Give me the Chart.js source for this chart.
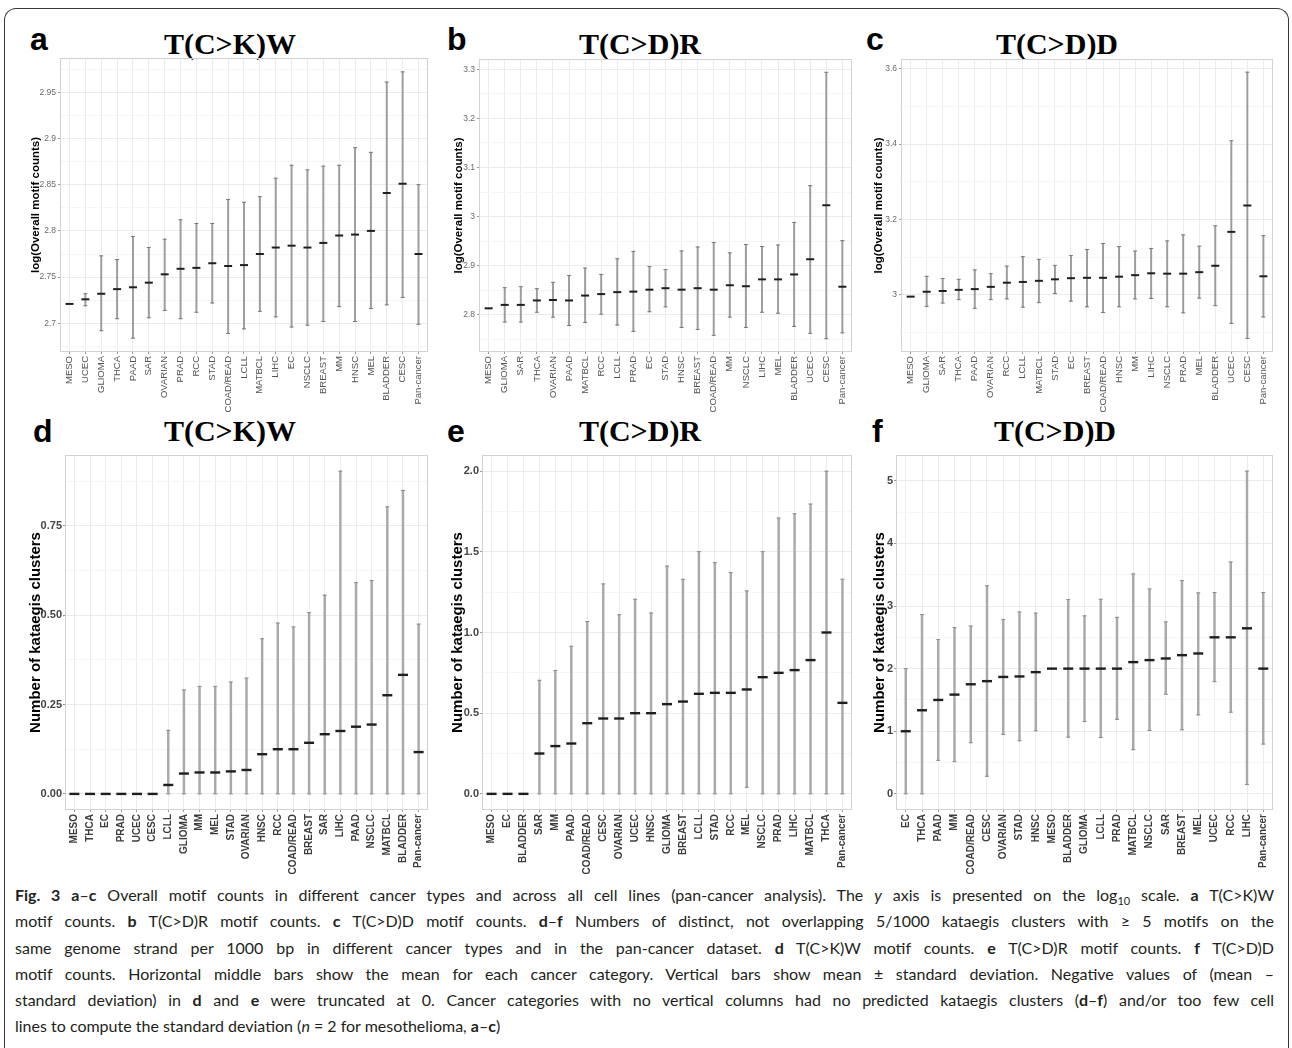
<!DOCTYPE html>
<html lang="en">
<head>
<meta charset="UTF-8">
<title>Fig. 3 motif counts and kataegis clusters</title>
<script src="https://cdn.jsdelivr.net/npm/chart.js"></script>
<style>
  body { margin: 0; background: #fff; width: 1292px; height: 1048px; position: relative; overflow: hidden; }
  .frame { position: absolute; left: 4px; top: 8px; width: 1283px; height: 1060px; border: 1.5px solid #3a3a3a; border-bottom: none; border-radius: 12px; }
  .letter { position: absolute; font: bold 32px 'Liberation Sans', Arial, sans-serif; line-height: 32px; color: #000; }
  .ptitle { position: absolute; width: 300px; text-align: center; font: bold 30px 'Liberation Serif', 'Times New Roman', serif; line-height: 30px; color: #000; }
  canvas { position: absolute; }
  .caption { position: absolute; left: 15px; top: 882px; width: 1259px; font: 16px Lato, sans-serif; color: #231f20; line-height: 26.3px; }
  .caption div { text-align: justify; text-align-last: justify; white-space: nowrap; }
  .caption div.last { text-align-last: left; }
</style>
</head>
<body>
<div class="frame"></div>

<div class="letter" style="left:30px; top:23px">a</div>
<div class="letter" style="left:447px; top:23px">b</div>
<div class="letter" style="left:866px; top:23px">c</div>
<div class="letter" style="left:33px; top:415px">d</div>
<div class="letter" style="left:447px; top:415px">e</div>
<div class="letter" style="left:872px; top:415px">f</div>

<div class="ptitle" style="left:80px; top:29px">T(C&gt;K)W</div>
<div class="ptitle" style="left:490px; top:29px">T(C&gt;D)R</div>
<div class="ptitle" style="left:907px; top:29px">T(C&gt;D)D</div>
<div class="ptitle" style="left:80px; top:416px">T(C&gt;K)W</div>
<div class="ptitle" style="left:490px; top:416px">T(C&gt;D)R</div>
<div class="ptitle" style="left:905px; top:416px">T(C&gt;D)D</div>

<canvas id="pa"></canvas>
<canvas id="pb"></canvas>
<canvas id="pc"></canvas>
<canvas id="pd"></canvas>
<canvas id="pe"></canvas>
<canvas id="pf"></canvas>

<div class="caption">
  <div><b>Fig. 3</b> <b>a</b>–<b>c</b> Overall motif counts in different cancer types and across all cell lines (pan-cancer analysis). The <i>y</i> axis is presented on the log<sub style="font-size:11px;line-height:0">10</sub> scale. <b>a</b> T(C&gt;K)W</div>
  <div>motif counts. <b>b</b> T(C&gt;D)R motif counts. <b>c</b> T(C&gt;D)D motif counts. <b>d</b>–<b>f</b> Numbers of distinct, not overlapping 5/1000 kataegis clusters with ≥ 5 motifs on the</div>
  <div>same genome strand per 1000 bp in different cancer types and in the pan-cancer dataset. <b>d</b> T(C&gt;K)W motif counts. <b>e</b> T(C&gt;D)R motif counts. <b>f</b> T(C&gt;D)D</div>
  <div>motif counts. Horizontal middle bars show the mean for each cancer category. Vertical bars show mean ± standard deviation. Negative values of (mean –</div>
  <div>standard deviation) in <b>d</b> and <b>e</b> were truncated at 0. Cancer categories with no vertical columns had no predicted kataegis clusters (<b>d</b>–<b>f</b>) and/or too few cell</div>
  <div class="last">lines to compute the standard deviation (<i>n</i> = 2 for mesothelioma, <b>a</b>–<b>c</b>)</div>
</div>

<script>
// ---- panel a: T(C>K)W, log10 overall motif counts ----
const aCats = ['MESO','UCEC','GLIOMA','THCA','PAAD','SAR','OVARIAN','PRAD','RCC','STAD','COAD/READ','LCLL','MATBCL','LIHC','EC','NSCLC','BREAST','MM','HNSC','MEL','BLADDER','CESC','Pan-cancer'];
const aMean = [2.721,2.726,2.732,2.737,2.739,2.744,2.753,2.759,2.760,2.765,2.762,2.763,2.775,2.782,2.784,2.782,2.787,2.795,2.796,2.800,2.841,2.851,2.775];
const aLow  = [null,2.719,2.692,2.705,2.684,2.706,2.714,2.705,2.712,2.722,2.689,2.694,2.713,2.707,2.696,2.698,2.702,2.718,2.702,2.716,2.720,2.728,2.699];
const aHigh = [null,2.732,2.773,2.769,2.794,2.782,2.791,2.812,2.808,2.808,2.834,2.831,2.837,2.857,2.871,2.866,2.870,2.871,2.890,2.885,2.961,2.972,2.850];
const aTicks = [2.7, 2.75, 2.8, 2.85, 2.9, 2.95];
const aTickLabels = ['2.7','2.75','2.8','2.85','2.9','2.95'];

// ---- panel b: T(C>D)R ----
const bCats = ['MESO','GLIOMA','SAR','THCA','OVARIAN','PAAD','MATBCL','RCC','LCLL','PRAD','EC','STAD','HNSC','BREAST','COAD/READ','MM','NSCLC','LIHC','MEL','BLADDER','UCEC','CESC','Pan-cancer'];
const bMean = [2.813,2.820,2.820,2.829,2.830,2.829,2.839,2.842,2.846,2.847,2.851,2.854,2.851,2.854,2.851,2.860,2.858,2.872,2.872,2.882,2.913,3.023,2.857];
const bLow  = [null,2.785,2.785,2.805,2.795,2.778,2.784,2.801,2.779,2.766,2.806,2.816,2.774,2.770,2.758,2.795,2.774,2.805,2.803,2.776,2.762,2.751,2.763];
const bHigh = [null,2.855,2.857,2.853,2.866,2.880,2.895,2.882,2.914,2.929,2.898,2.892,2.930,2.938,2.947,2.926,2.943,2.939,2.942,2.988,3.063,3.294,2.951];
const bTicks = [2.8, 2.9, 3.0, 3.1, 3.2, 3.3];
const bTickLabels = ['2.8','2.9','3','3.1','3.2','3.3'];

// ---- panel c: T(C>D)D ----
const cCats = ['MESO','GLIOMA','SAR','THCA','PAAD','OVARIAN','RCC','LCLL','MATBCL','STAD','EC','BREAST','COAD/READ','HNSC','MM','LIHC','NSCLC','PRAD','MEL','BLADDER','UCEC','CESC','Pan-cancer'];
const cMean = [2.995,3.008,3.010,3.013,3.015,3.021,3.032,3.034,3.037,3.041,3.044,3.045,3.045,3.048,3.052,3.057,3.056,3.056,3.060,3.077,3.167,3.237,3.049];
const cLow  = [null,2.969,2.978,2.987,2.964,2.987,2.989,2.967,2.979,3.003,2.983,2.968,2.953,2.968,2.989,2.990,2.968,2.952,2.991,2.971,2.924,2.884,2.941];
const cHigh = [null,3.049,3.043,3.041,3.066,3.056,3.076,3.101,3.094,3.078,3.104,3.120,3.136,3.128,3.116,3.123,3.143,3.159,3.129,3.183,3.409,3.591,3.157];
const cTicks = [3.0, 3.2, 3.4, 3.6];
const cTickLabels = ['3','3.2','3.4','3.6'];

// ---- panel d: kataegis clusters, T(C>K)W ----
const dCats = ['MESO','THCA','EC','PRAD','UCEC','CESC','LCLL','GLIOMA','MM','MEL','STAD','OVARIAN','HNSC','RCC','COAD/READ','BREAST','SAR','LIHC','PAAD','NSCLC','MATBCL','BLADDER','Pan-cancer'];
const dMean = [0,0,0,0,0,0,0.025,0.057,0.060,0.060,0.063,0.067,0.111,0.125,0.125,0.143,0.167,0.176,0.188,0.194,0.276,0.333,0.117];
const dLow  = [null,null,null,null,null,null,0,0,0,0,0,0,0,0,0,0,0,0,0,0,0,0,0];
const dHigh = [null,null,null,null,null,null,0.178,0.291,0.301,0.301,0.313,0.324,0.434,0.478,0.467,0.507,0.556,0.903,0.591,0.597,0.803,0.849,0.475];
const dTicks = [0, 0.25, 0.5, 0.75];
const dTickLabels = ['0.00','0.25','0.50','0.75'];

// ---- panel e: kataegis clusters, T(C>D)R ----
const eCats = ['MESO','EC','BLADDER','SAR','MM','PAAD','COAD/READ','CESC','OVARIAN','UCEC','HNSC','GLIOMA','BREAST','LCLL','STAD','RCC','MEL','NSCLC','PRAD','LIHC','MATBCL','THCA','Pan-cancer'];
const eMean = [0,0,0,0.25,0.296,0.312,0.438,0.467,0.467,0.5,0.5,0.556,0.572,0.62,0.626,0.626,0.647,0.723,0.75,0.767,0.829,1.0,0.564];
const eLow  = [null,null,null,0,0,0,0,0,0,0,0,0,0,0,0,0,0.041,0,0,0,0,0,0];
const eHigh = [null,null,null,0.704,0.764,0.915,1.068,1.301,1.11,1.206,1.121,1.412,1.33,1.501,1.433,1.371,1.258,1.501,1.709,1.736,1.796,2.0,1.33];
const eTicks = [0, 0.5, 1, 1.5, 2];
const eTickLabels = ['0.0','0.5','1.0','1.5','2.0'];

// ---- panel f: kataegis clusters, T(C>D)D ----
const fCats = ['EC','THCA','PAAD','MM','COAD/READ','CESC','OVARIAN','STAD','HNSC','MESO','BLADDER','GLIOMA','LCLL','PRAD','MATBCL','NSCLC','SAR','BREAST','MEL','UCEC','RCC','LIHC','Pan-cancer'];
const fMean = [1.0,1.335,1.5,1.585,1.75,1.8,1.867,1.875,1.944,2,2,2,2,2,2.104,2.136,2.162,2.215,2.242,2.5,2.5,2.644,2.0];
const fLow  = [0,0,0.535,0.514,0.816,0.281,0.949,0.848,1.007,null,0.906,1.155,0.901,1.19,0.705,1.012,1.59,1.023,1.261,1.791,1.304,0.148,0.795];
const fHigh = [2.0,2.863,2.464,2.655,2.68,3.324,2.785,2.905,2.886,null,3.103,2.843,3.108,2.82,3.513,3.273,2.746,3.406,3.21,3.215,3.705,5.154,3.215];
const fTicks = [0, 1, 2, 3, 4, 5];
const fTickLabels = ['0','1','2','3','4','5'];

const ARIAL = "'Liberation Sans', Arial, sans-serif";

// light grey border round each plot area, like ggplot's panel.border
const panelFrame = {
  id: 'panelFrame',
  afterDatasetsDraw(chart) {
    const a = chart.chartArea, c = chart.ctx;
    c.save();
    c.strokeStyle = '#d2d2d2';
    c.lineWidth = 1;
    c.strokeRect(a.left + 0.5, a.top + 0.5, a.right - a.left - 1, a.bottom - a.top - 1);
    c.restore();
  }
};

function makePanel(id, cats, mean, low, high, ticks, tickLabels, yMin, yMax, yTitle, box, big) {
  const pad = 8;
  const axisH = big ? 68 : 62;
  const el = document.getElementById(id);
  el.style.left = box.cl + 'px';
  el.style.top = (box.T - pad) + 'px';
  el.width = box.R + pad - box.cl;
  el.height = box.B + axisH - (box.T - pad);

  // major grid at labelled ticks, minor halfway between
  const step = ticks[1] - ticks[0];
  const grid = [];
  for (let v = ticks[0] - step / 2; v <= yMax + 1e-9; v += step / 2) {
    if (v >= yMin - 1e-9) grid.push(+v.toFixed(6));
  }
  const isMajor = v => ticks.some(t => Math.abs(t - v) < 1e-6);

  const bars = [], capHi = [], capLo = [], means = [];
  cats.forEach((c, i) => {
    means.push({ x: i, y: mean[i] });
    if (high[i] != null) {
      bars.push({ x: i, y: [low[i], high[i]] });
      capHi.push({ x: i, y: high[i] });
      capLo.push({ x: i, y: low[i] });
    }
  });

  const whisker = big ? '#a9a9a9' : '#9c9c9c';
  const capCol = big ? '#8a8a8a' : '#777';

  new Chart(el, {
    type: 'bar',
    data: {
      datasets: [
        { type: 'bar', data: bars, backgroundColor: whisker, barThickness: big ? 1.8 : 1.3, order: 3 },
        { type: 'line', data: capHi, showLine: false, pointStyle: 'line', pointRadius: 2, pointBorderWidth: 1, pointBorderColor: capCol, borderColor: capCol, order: 2 },
        { type: 'line', data: capLo, showLine: false, pointStyle: 'line', pointRadius: 2, pointBorderWidth: 1, pointBorderColor: capCol, borderColor: capCol, order: 2 },
        { type: 'line', data: means, showLine: false, pointStyle: 'line', pointRadius: big ? 5 : 4, pointBorderWidth: big ? 2.4 : 2, pointBorderColor: '#1e1e1e', borderColor: '#1e1e1e', order: 1 }
      ]
    },
    options: {
      responsive: false,
      animation: false,
      devicePixelRatio: 1,
      layout: { padding: { top: pad, right: pad, left: 0, bottom: 0 } },
      plugins: { legend: { display: false }, tooltip: { enabled: false } },
      scales: {
        x: {
          type: 'linear',
          min: -0.6,
          max: cats.length - 0.4,
          offset: false,
          afterBuildTicks: s => { s.ticks = cats.map((c, i) => ({ value: i })); },
          afterFit: s => { s.height = axisH; s.paddingLeft = 0; s.paddingRight = 0; },
          grid: { offset: false, color: '#ebebeb', lineWidth: 1, tickLength: 2, tickColor: '#999' },
          border: { display: false },
          ticks: {
            autoSkip: false, maxRotation: 90, minRotation: 90, padding: 2,
            callback: v => cats[v],
            color: big ? '#3c3c3c' : '#555',
            font: big ? { family: ARIAL, size: 10, weight: 'bold' } : { family: ARIAL, size: 9.5 }
          }
        },
        y: {
          min: yMin,
          max: yMax,
          beginAtZero: false,
          afterBuildTicks: s => { s.ticks = grid.map(v => ({ value: v })); },
          afterFit: s => { s.width = box.L - box.cl; s.paddingTop = 0; s.paddingBottom = 0; },
          grid: {
            color: ctx => isMajor(ctx.tick.value) ? '#ebebeb' : '#f5f5f5',
            lineWidth: 1,
            tickLength: 2,
            tickColor: ctx => isMajor(ctx.tick.value) ? '#999' : 'rgba(0,0,0,0)'
          },
          border: { display: false },
          ticks: {
            padding: big ? 1 : 2,
            callback: v => { const k = ticks.findIndex(t => Math.abs(t - v) < 1e-6); return k < 0 ? '' : tickLabels[k]; },
            color: big ? '#444' : '#6a6a6a',
            font: big ? { family: ARIAL, size: 11, weight: 'bold' } : { family: ARIAL, size: 8.5 }
          },
          title: {
            display: true,
            text: yTitle,
            color: '#000',
            padding: { top: 4, bottom: 0 },
            font: big ? { family: ARIAL, size: 15, weight: 'bold' } : { family: ARIAL, size: 11.5, weight: 'bold' }
          }
        }
      }
    },
    plugins: [panelFrame]
  });
}

const topTitle = 'log(Overall motif counts)';
const botTitle = 'Number of kataegis clusters';

makePanel('pa', aCats, aMean, aLow, aHigh, aTicks, aTickLabels, 2.669, 2.987, topTitle, { L: 60, T: 58, R: 428, B: 352, cl: 25 }, false);
makePanel('pb', bCats, bMean, bLow, bHigh, bTicks, bTickLabels, 2.724, 3.321, topTitle, { L: 479, T: 59, R: 852, B: 352, cl: 448 }, false);
makePanel('pc', cCats, cMean, cLow, cHigh, cTicks, cTickLabels, 2.848, 3.626, topTitle, { L: 901, T: 59, R: 1273, B: 352, cl: 868 }, false);
makePanel('pd', dCats, dMean, dLow, dHigh, dTicks, dTickLabels, -0.045, 0.948, botTitle, { L: 65, T: 455, R: 428, B: 810, cl: 23 }, true);
makePanel('pe', eCats, eMean, eLow, eHigh, eTicks, eTickLabels, -0.1, 2.1, botTitle, { L: 482, T: 455, R: 852, B: 810, cl: 445 }, true);
makePanel('pf', fCats, fMean, fLow, fHigh, fTicks, fTickLabels, -0.258, 5.412, botTitle, { L: 896, T: 455, R: 1273, B: 810, cl: 867 }, true);
</script>
</body>
</html>
